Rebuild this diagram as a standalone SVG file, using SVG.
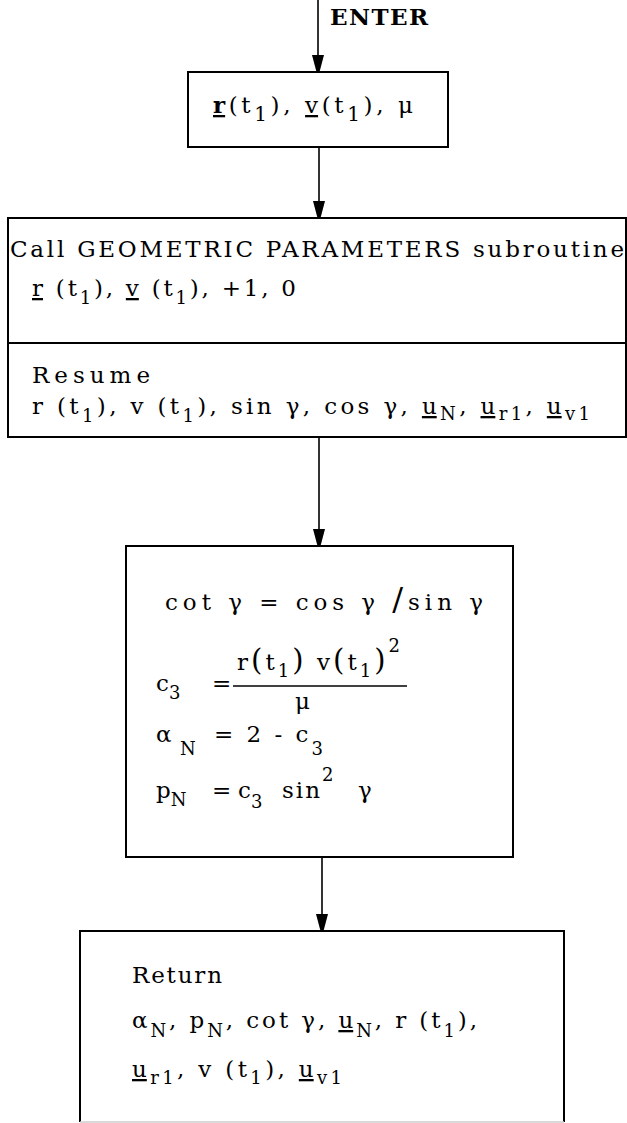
<svg xmlns="http://www.w3.org/2000/svg" width="627" height="1123" viewBox="0 0 627 1123">
<style>
text{font-family:"DejaVu Serif","Liberation Serif",serif;font-size:23px;fill:#000}
.b{font-weight:bold}
.s{font-size:18px}
.u{text-decoration:underline}
.box{fill:none;stroke:#000;stroke-width:2}
.conn line{stroke:#000;stroke-width:1.6}
</style>
<defs>
<marker id="ah" markerWidth="18" markerHeight="12" refX="17" refY="6" orient="auto" markerUnits="userSpaceOnUse">
<path d="M0,0 L17,4.5 L17,7.5 L0,12 Z"/>
</marker>
</defs>
<rect width="627" height="1123" fill="#fff"/>

<g class="conn">
<line x1="318" y1="0" x2="318" y2="72" marker-end="url(#ah)"/>
<line x1="319" y1="148" x2="319" y2="218" marker-end="url(#ah)"/>
<line x1="319" y1="437" x2="319" y2="546" marker-end="url(#ah)"/>
<line x1="322" y1="857" x2="322" y2="931" marker-end="url(#ah)"/>
</g>
<text class="b" x="330" y="25" font-size="19" textLength="98" lengthAdjust="spacing">ENTER</text>

<g id="input">
<rect class="box" x="188" y="72" width="260" height="75"/>
<text x="213" y="113" font-size="27" textLength="200" lengthAdjust="spacing"><tspan class="b u">r</tspan>(t<tspan font-size="20" dy="8">1</tspan><tspan dy="-8">), </tspan><tspan class="u">v</tspan>(t<tspan font-size="20" dy="8">1</tspan><tspan dy="-8">), μ</tspan></text>
</g>

<g id="geometric">
<rect class="box" x="8" y="218" width="618" height="219"/>
<line x1="8" y1="343" x2="626" y2="343" stroke="#000" stroke-width="2"/>
<text x="10" y="257" textLength="614" lengthAdjust="spacing">Call GEOMETRIC PARAMETERS subroutine</text>
<text x="32" y="296" textLength="264" lengthAdjust="spacing"><tspan class="u">r</tspan> (t<tspan class="s" dy="8">1</tspan><tspan dy="-8">), </tspan><tspan class="u">v</tspan> (t<tspan class="s" dy="8">1</tspan><tspan dy="-8">), +1, 0</tspan></text>
<text x="32" y="383" textLength="118" lengthAdjust="spacing">Resume</text>
<text x="32" y="414" textLength="558" lengthAdjust="spacing">r (t<tspan class="s" dy="8">1</tspan><tspan dy="-8">), v (t</tspan><tspan class="s" dy="8">1</tspan><tspan dy="-8">), sin γ, cos γ, </tspan><tspan class="u">u</tspan><tspan class="s" dy="6">N</tspan><tspan dy="-6">, </tspan><tspan class="u">u</tspan><tspan class="s" dy="6">r1</tspan><tspan dy="-6">, </tspan><tspan class="u">u</tspan><tspan class="s" dy="6">v1</tspan></text>
</g>

<g id="compute">
<rect class="box" x="126" y="546" width="387" height="311"/>
<text x="165" y="610" textLength="318" lengthAdjust="spacing">cot γ = cos γ <tspan font-size="32">/</tspan>sin γ</text>
<text x="156" y="691">c<tspan class="s" dy="8">3</tspan><tspan x="212" dy="-8">=</tspan></text>
<line x1="233" y1="686" x2="407" y2="686" stroke="#000" stroke-width="1.5"/>
<text x="237" y="670" textLength="163" lengthAdjust="spacing">r<tspan font-size="29">(</tspan>t<tspan class="s" dy="7">1</tspan><tspan dy="-7" font-size="29">)</tspan> v<tspan font-size="29">(</tspan>t<tspan class="s" dy="7">1</tspan><tspan dy="-7" font-size="29">)</tspan><tspan class="s" dy="-18">2</tspan></text>
<text x="295" y="709">μ</text>
<text x="156" y="742">α<tspan class="s" x="180" dy="13">N</tspan><tspan x="214" dy="-13" letter-spacing="3">=  2  -  c</tspan><tspan class="s" dy="13">3</tspan></text>
<text x="156" y="798">p<tspan class="s" dy="8">N</tspan><tspan x="212" dy="-8">=</tspan><tspan x="238">c</tspan><tspan class="s" dy="10">3</tspan><tspan x="282" dy="-10" letter-spacing="2">sin</tspan><tspan class="s" dy="-17">2</tspan><tspan x="358" dy="17">γ</tspan></text>
</g>

<g id="return">
<path d="M80,1122 V931 H564 V1122" fill="none" stroke="#000" stroke-width="2"/>
<line x1="80" y1="1122" x2="564" y2="1122" stroke="#ccc" stroke-width="1.5"/>
<text x="132" y="983" textLength="90" lengthAdjust="spacing">Return</text>
<text x="132" y="1028" textLength="345" lengthAdjust="spacing">α<tspan class="s" dy="9">N</tspan><tspan dy="-9">, p</tspan><tspan class="s" dy="9">N</tspan><tspan dy="-9">, cot γ, </tspan><tspan class="u">u</tspan><tspan class="s" dy="9">N</tspan><tspan dy="-9">, r (t</tspan><tspan class="s" dy="9">1</tspan><tspan dy="-9">),</tspan></text>
<text x="132" y="1077" textLength="210" lengthAdjust="spacing"><tspan class="u">u</tspan><tspan class="s" dy="7">r1</tspan><tspan dy="-7">, v (t</tspan><tspan class="s" dy="7">1</tspan><tspan dy="-7">), </tspan><tspan class="u">u</tspan><tspan class="s" dy="7">v1</tspan></text>
</g>
</svg>
